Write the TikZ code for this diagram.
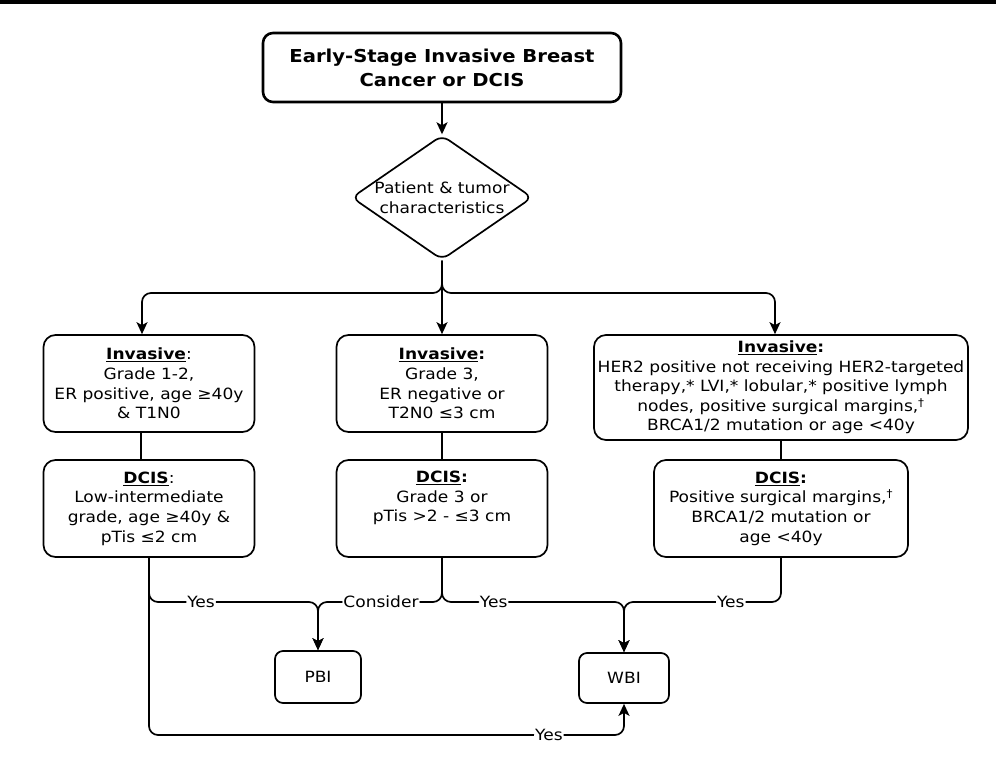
\documentclass[tikz,border=0pt]{standalone}
\usepackage{fontspec}
\setmainfont{DejaVu Sans}[FakeStretch=1.1]
\usepackage{xcolor}
\usetikzlibrary{arrows.meta, shapes.geometric}

\begin{document}
\begin{tikzpicture}[
    x=1pt, y=-1pt,
    >={Stealth[length=12pt, width=11pt, inset=3pt]},
    box/.style={draw, line width=1.7pt, rounded corners=12pt, align=center, inner sep=2pt, font=\fontsize{15.5}{19.6}\selectfont},
    titlebox/.style={box, line width=2.6pt, rounded corners=10pt, font=\bfseries\fontsize{17.8}{24}\selectfont, minimum width=358pt, minimum height=69pt},
    critbox/.style={box, minimum width=211pt, minimum height=97pt},
    decbox/.style={box, shape=diamond, aspect=1.45, inner sep=0pt, rounded corners=8pt, minimum width=175pt, minimum height=121pt},
    outbox/.style={box, rounded corners=8pt, minimum width=86pt, minimum height=52pt},
    arr/.style={->, line width=1.7pt, rounded corners=9pt},
    link/.style={line width=1.7pt},
    lab/.style={fill=white, inner sep=1pt, font=\fontsize{15.5}{16}\selectfont}
]
\useasboundingbox (0,0) rectangle (996,772);
\draw[line width=3.5pt] (0,1.75) -- (996,1.75);

\node[titlebox] (start) at (442,67.5) {Early-Stage Invasive Breast\\Cancer or DCIS};
\node[decbox] (chk) at (442,197.5) {Patient \& tumor\\characteristics};
\node[critbox] (inv1) at (149,383.5) {\underline{\textbf{Invasive}}:\\Grade 1-2,\\ER positive, age ≥40y\\\& T1N0};
\node[critbox] (inv2) at (442,383.5) {\textbf{\underline{Invasive}:}\\Grade 3,\\ER negative or\\T2N0 ≤3 cm};
\node[critbox, minimum width=374pt, minimum height=105pt] (inv3) at (781,387.5) {\textbf{\underline{Invasive}:}\\HER2 positive not receiving HER2-targeted\\therapy,* LVI,* lobular,* positive lymph\\nodes, positive surgical margins,\textsuperscript{†}\\BRCA1/2 mutation or age <40y};
\node[critbox] (dcis1) at (149,508.5) {\underline{\textbf{DCIS}}:\\Low-intermediate\\grade, age ≥40y \&\\pTis ≤2 cm};
\node[critbox, text depth=24pt] (dcis2) at (442,508.5) {\textbf{\underline{DCIS}:}\\Grade 3 or\\pTis >2 - ≤3 cm};
\node[critbox, minimum width=254pt] (dcis3) at (781,508.5) {\textbf{\underline{DCIS}:}\\Positive surgical margins,\textsuperscript{†}\\BRCA1/2 mutation or\\age <40y};
\node[outbox] (pbi) at (318,677) {PBI};
\node[outbox, minimum width=90pt, minimum height=50pt] (wbi) at (624,678) {WBI};

% rails
\coordinate (railB) at (0,293);
\coordinate (railY) at (0,602);
\coordinate (railW) at (0,735);
\coordinate (in1) at ([xshift=-7pt]inv1.north);
\coordinate (in3) at ([xshift=-6pt]inv3.north);

\draw[arr] (start) -- (chk);
\draw[arr] (chk.south) |- (in1 |- railB) -- (in1);
\draw[arr] (chk.south) -- (inv2.north);
\draw[arr] (chk.south) |- (in3 |- railB) -- (in3);
\draw[link] ([xshift=-8pt]inv1.south) -- ([xshift=-8pt]dcis1.north);
\draw[link] (inv2) -- (dcis2);
\draw[link] (inv3) -- (dcis3);

\draw[arr] (dcis1.south) |- node[lab, pos=0.654] {Yes} (pbi.north |- railY) -- (pbi.north);
\draw[arr] (dcis1.south) |- node[lab, pos=0.921] {Yes} (wbi.south |- railW) -- (wbi.south);
\draw[arr] (dcis2.south) |- node[lab, pos=0.746] {Consider} (pbi.north |- railY) -- (pbi.north);
\draw[arr] (dcis2.south) |- node[lab, pos=0.642] {Yes} (wbi.north |- railY) -- (wbi.north);
\draw[arr] (dcis3.south) |- node[lab, pos=0.66] {Yes} (wbi.north |- railY) -- (wbi.north);
\end{tikzpicture}
\end{document}
